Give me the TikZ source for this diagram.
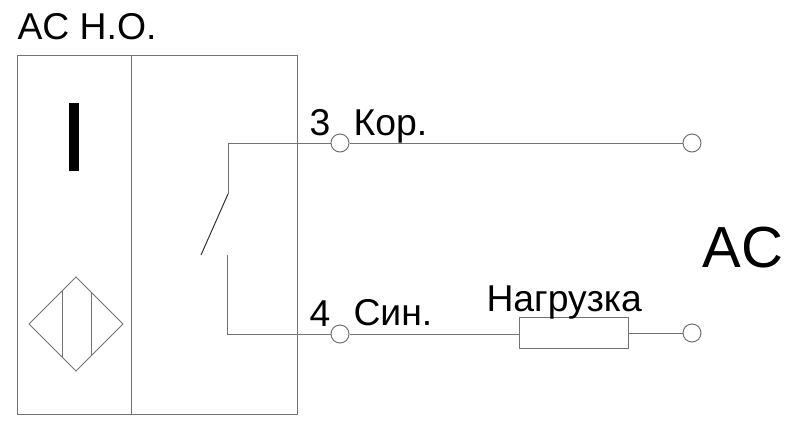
\documentclass[tikz,border=0pt]{standalone}
\usepackage{fontspec}
\setmainfont{Liberation Sans}
\usetikzlibrary{calc}
\usetikzlibrary{positioning}

\begin{document}
\begin{tikzpicture}[
          x=0.75pt,
          y=-0.75pt,
          line width=0.75pt,
          wire/.style={draw=black!55},
          terminal/.style={
            draw=black!55,
            fill=white,
            circle,
            inner sep=0pt,
            minimum size=13.5pt},
          label/.style={
            anchor=base west,
            inner sep=0pt,
            font=\fontsize{28}{30}\selectfont},
          load/.style={
            draw=black!55,
            inner sep=0pt,
            minimum width=81.75pt,
            minimum height=23.25pt},
        ]
          \useasboundingbox (0,0) rectangle (800,440);
          \fill[white] (0,0) rectangle (800,440);
          % housing
          \node[wire, draw, inner sep=0pt, minimum width=210pt, minimum height=269pt] (box) at (157.5,234.75) {};
          \coordinate (divtop) at (131.5,55.5);
          \coordinate (divbot) at (131.5,414);
          \draw[wire] (divtop) -- (divbot);
          \node[fill=black, inner sep=0pt, minimum width=7.5pt, minimum height=51pt] (bar) at (74,137) {};
          % sensor symbol
          \coordinate (sw) at (29,324);
          \coordinate (sn) at (76,277);
          \coordinate (se) at (123,324);
          \coordinate (ss) at (76,371);
          \draw[wire] (sw) -- (sn) -- (se) -- (ss) -- cycle;
          \draw[wire] (62,291) -- (62,357);
          \draw[wire] (91,292) -- (91,356);
          % terminals
          \node[terminal] (t3) at (340,143) {};
          \node[terminal] (t4) at (340,334) {};
          \node[terminal] (r3) at (692,143) {};
          \node[terminal] (r4) at (692,333) {};
          \node[load] (rl) at (573.5,332.5) {};
          % contact
          \coordinate (c3) at (228,143);
          \coordinate (h3) at (228,194);
          \coordinate (blade) at (201,255);
          \coordinate (h4) at (227,255);
          \coordinate (c4) at (227,334);
          \draw[wire] (t3) -- (c3) -- (h3);
          \draw[draw=black!80] (h3) -- (blade);
          \draw[wire] (t4) -- (c4) -- (h4);
          % lines
          \draw[wire] (t3) -- (r3);
          \draw[wire] (t4) -- (rl.west |- t4);
          \draw[wire] (rl.east |- r4) -- (r4);
          % texts
          \node[label] (title) at (17,39) {AC Н.О.};
          \node[label] (n3) at (309,135) {3};
          \node[label] (n4) at (309,326) {4};
          \node[label] (kor) at (353,135) {Кор.};
          \node[label] (sin) at (353,325) {Син.};
          \node[label] (nagr) at (486,311) {Нагрузка};
          \node[label, font=\fontsize{43.5}{46}\selectfont] (ac) at (702,267) {AC};
        \end{tikzpicture}
\end{document}
